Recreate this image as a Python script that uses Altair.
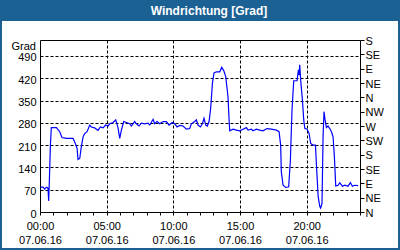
import altair as alt
import pandas as pd

# ---- data ----
hours = [0.05, 0.23, 0.35, 0.48, 0.6, 0.65, 0.70, 0.78, 0.85, 1.23,
         1.48, 1.65, 1.98, 2.48, 2.65, 2.78, 2.85, 2.98, 3.1, 3.23,
         3.35, 3.53, 3.73, 3.85, 4.1, 4.35, 4.53, 4.73, 4.93, 5.1,
         5.23, 5.48, 5.68, 5.85, 5.98, 6.1, 6.28, 6.48, 6.73, 6.85,
         7.1, 7.23, 7.43, 7.6, 7.85, 8.1, 8.23, 8.48, 8.6, 8.78,
         8.98, 9.23, 9.48, 9.68, 9.93, 10.1, 10.28, 10.48, 10.73, 10.98,
         11.23, 11.35, 11.6, 11.73, 11.85, 12.03, 12.18, 12.3, 12.43, 12.55,
         12.68, 12.8, 12.93, 13.05, 13.23, 13.48, 13.63, 13.78, 13.93, 14.1,
         14.18, 14.23, 14.48, 14.73, 14.98, 15.23, 15.48, 15.6, 15.85, 15.98,
         16.23, 16.48, 16.73, 17.03, 17.35, 17.73, 17.93, 18.05, 18.1, 18.23,
         18.43, 18.65, 18.78, 18.9, 19.03, 19.28, 19.38, 19.43, 19.48, 19.55,
         19.68, 19.78, 19.86, 20.03, 20.18, 20.3, 20.48, 20.66, 20.73, 20.86,
         20.98, 21.05, 21.15, 21.23, 21.3, 21.38, 21.48, 21.6, 21.73, 21.86,
         21.98, 22.08, 22.18, 22.36, 22.48, 22.68, 22.86, 23.1, 23.28, 23.43,
         23.6, 23.86]
grad = [78, 78, 72, 78, 75, 35, 94, 210, 265, 265,
        252, 234, 231, 231, 215, 200, 165, 168, 205, 236,
        246, 252, 273, 267, 264, 256, 267, 264, 273, 270,
        277, 281, 289, 265, 231, 256, 284, 281, 277, 270,
        284, 277, 270, 279, 277, 279, 273, 291, 277, 284,
        277, 284, 284, 273, 281, 277, 267, 272, 270, 260,
        262, 277, 284, 289, 273, 267, 277, 294, 273, 270,
        284, 325, 404, 437, 440, 440, 454, 444, 425, 362,
        291, 255, 260, 257, 255, 260, 265, 257, 260, 255,
        260, 257, 255, 262, 260, 257, 252, 210, 126, 84,
        77, 79, 163, 320, 412, 412, 446, 430, 462, 414,
        352, 289, 263, 260, 247, 215, 210, 210, 150, 50,
        18, 12, 27, 236, 315, 290, 265, 270, 262, 252,
        236, 173, 82, 84, 92, 81, 84, 81, 92, 81,
        84, 83]

left_ticks = [0, 70, 140, 210, 280, 350, 420, 490]
right_ticks = [0, 45, 90, 135, 180, 225, 270, 315, 360, 405, 450, 495, 540]
right_labels = ["N", "NE", "E", "SE", "S", "SW", "W", "NW", "N", "NE", "E", "SE", "S"]
hour_ticks = list(range(0, 25))
date_label = "07.06.16"
title_text = "Windrichtung [Grad]"
unit_text = "Grad"

df = pd.DataFrame({"h": hours, "grad": grad})

W, H = 320, 172
FONT = "Liberation Sans"
BLUE = "#1c6194"
DASH = [3, 2]

xaxis = alt.Axis(
    values=hour_ticks, title=None, grid=True, gridColor="black", gridDash=DASH,
    gridOpacity={"condition": {"test": "datum.value % 5 == 0 && datum.value > 0 && datum.value < 24", "value": 1}, "value": 0},
    labelExpr=f"datum.value % 5 == 0 && datum.value < 24 ? [(datum.value < 10 ? '0' : '') + datum.value + ':00', '{date_label}'] : ''",
    tickSize=3, tickColor="black", domain=False, labelFont=FONT, labelFontSize=11,
    labelColor="black", labelPadding=5, labelLineHeight=14, labelFlush=False, labelOverlap=False,
)
x = alt.X("h:Q", scale=alt.Scale(domain=[0, 24], nice=False, zero=False), axis=xaxis)

yscale = alt.Scale(domain=[0, 540], nice=False, zero=True)

line = alt.Chart(df).mark_line(color="#0000ff", strokeWidth=1.2).encode(
    x=x,
    y=alt.Y("grad:Q", scale=yscale, axis=alt.Axis(
        values=left_ticks, title=None, grid=True, gridColor="black", gridDash=DASH,
        gridOpacity={"condition": {"test": "datum.value > 0", "value": 1}, "value": 0},
        ticks=False, domain=False, labelFont=FONT, labelFontSize=11, labelColor="black",
        labelPadding=4, labelOffset=2)),
)

lab_js = "[" + ",".join(f"'{s}'" for s in right_labels) + "]"
right = alt.Chart(df).mark_line(opacity=0).encode(
    x=x,
    y=alt.Y("grad:Q", scale=yscale, axis=alt.Axis(
        orient="right", values=right_ticks, title=None, grid=False, domain=False,
        tickSize=4, tickColor="black", labelPadding=1,
        labelExpr=f"{lab_js}[round(datum.value / 45)]",
        labelFont=FONT, labelFontSize=11, labelColor="black", labelOffset=1)),
)

tdf = pd.DataFrame({"t": [title_text], "u": [unit_text]})
bar = alt.Chart(tdf).mark_rect(color=BLUE).encode(
    x=alt.value(-40), x2=alt.value(360), y=alt.value(-40), y2=alt.value(-19))
frame = alt.Chart(tdf).mark_rect(fill=None, stroke=BLUE, strokeWidth=2).encode(
    x=alt.value(-39), x2=alt.value(359), y=alt.value(-39), y2=alt.value(209))
title = alt.Chart(tdf).mark_text(color="white", font=FONT, fontSize=12, fontWeight="bold",
                                 align="center", baseline="middle").encode(
    x=alt.value(169), y=alt.value(-29.5), text="t:N")
unit = alt.Chart(tdf).mark_text(color="black", font=FONT, fontSize=11,
                                align="right", baseline="alphabetic").encode(
    x=alt.value(-4), y=alt.value(9.5), text="u:N")

chart = alt.layer(line, right, bar, frame, title, unit).resolve_scale(y="independent").properties(
    width=W, height=H,
    autosize=alt.AutoSizeParams(type="none"),
    padding={"left": 40, "top": 40, "right": 40, "bottom": 38},
    background="white",
).configure_view(stroke="black", strokeWidth=1)

chart.save("out.html", embed_options={"renderer": "svg", "actions": False})
